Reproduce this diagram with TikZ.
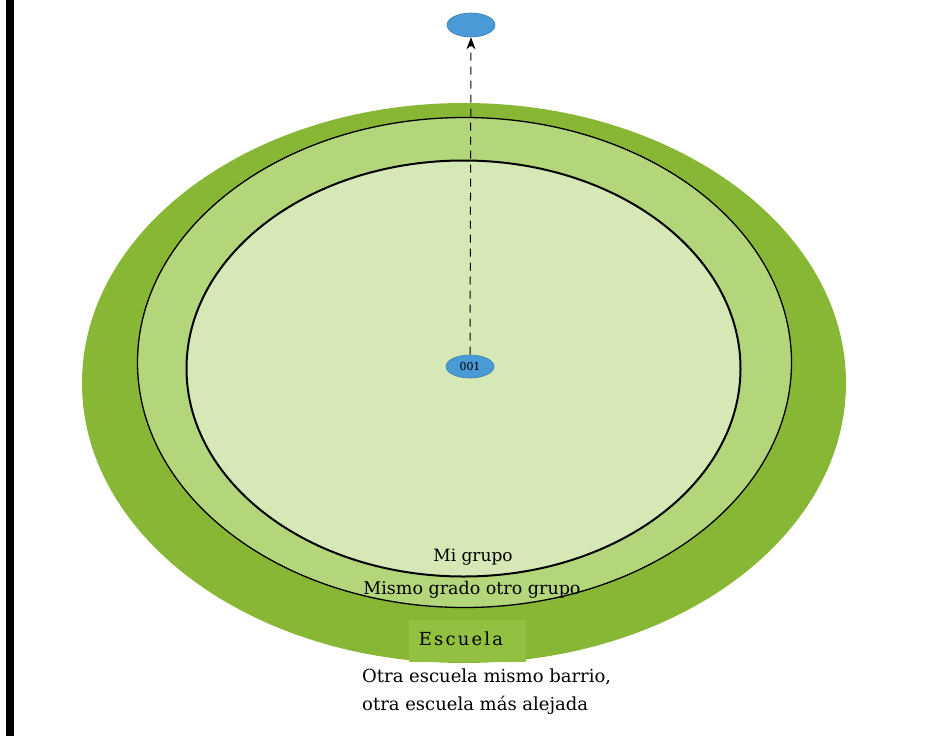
\documentclass[tikz,border=0pt]{standalone}
\usepackage{fontspec}
\setmainfont{DejaVu Serif}
\usetikzlibrary{arrows.meta,shapes.geometric}
\definecolor{ringout}{HTML}{88B735}
\definecolor{ringmid}{HTML}{B3D67A}
\definecolor{ringin}{HTML}{D6E8B5}
\definecolor{boxgreen}{HTML}{92C040}
\definecolor{dotblue}{HTML}{4A9AD6}
\definecolor{dotedge}{HTML}{3A7FB8}
\begin{document}
\begin{tikzpicture}[x=1pt,y=-1pt,
  lbl/.style={font=\fontsize{17.5}{19}\selectfont, inner sep=0pt},
  lbl2/.style={font=\fontsize{18}{20}\selectfont, inner sep=0pt, anchor=west},
  dot/.style={ellipse, fill=dotblue, draw=dotedge, line width=0.6pt, minimum width=48pt, minimum height=23pt, inner sep=0pt, font=\fontsize{11}{12}\selectfont}]
\useasboundingbox (0,0) rectangle (926,736);
\fill[white] (0,0) rectangle (926,736);
\fill[black] (6,0) rectangle (14,736);
% rings
\fill[ringout] (464,383) ellipse [x radius=382, y radius=280];
\fill[boxgreen] (409,620) rectangle (526,662);
\filldraw[fill=ringmid, draw=black, line width=1.3pt] (464.5,362.5) ellipse [x radius=327, y radius=245];
\filldraw[fill=ringin, draw=black, line width=2pt] (463.5,368.5) ellipse [x radius=277, y radius=208];
% nodes
\node[dot] (n001) at (470,366.5) {001};
\node[dot, minimum height=24pt] (top) at (471,25) {};
\draw[dashed, dash pattern=on 8pt off 6pt, line width=1pt, -{Stealth[length=12pt,width=9pt]}] (n001.north) -- (top.south);
% labels
\node[lbl, font=\fontsize{17}{19}\selectfont] (l1) at (473,557) {Mi grupo};
\node[lbl] (l2) at (472,590) {Mismo grado otro grupo};
\node[lbl, font=\fontsize{18}{20}\selectfont\addfontfeatures{LetterSpace=12}] (l3) at (461,639) {Escuela};
\node[lbl2] (l4) at (362,677) {Otra escuela mismo barrio,};
\node[lbl2] (l5) at (362,705) {otra escuela más alejada};
\end{tikzpicture}
\end{document}
